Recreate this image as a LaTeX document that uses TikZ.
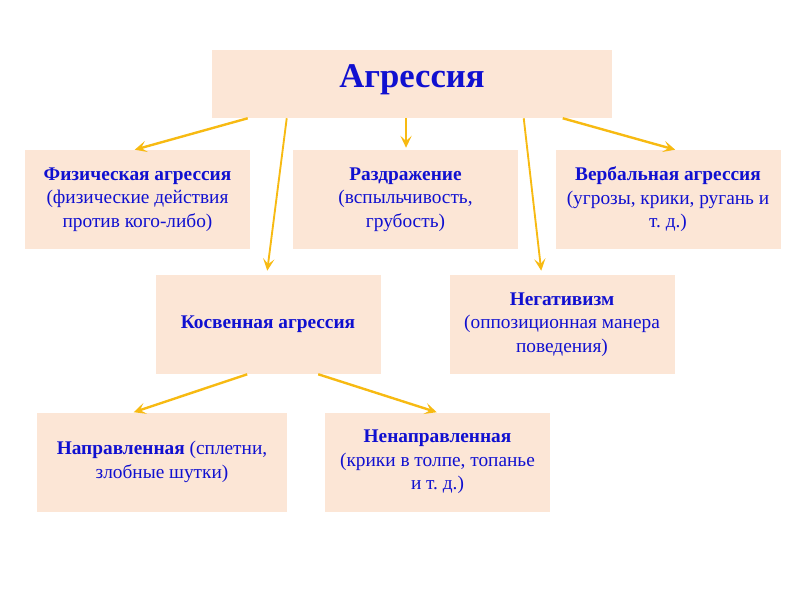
\documentclass[tikz,border=0pt]{standalone}
\usepackage{fontspec}
\setmainfont{Liberation Serif}
\usetikzlibrary{arrows.meta}
\definecolor{boxfill}{HTML}{FCE6D6}
\definecolor{txtblue}{HTML}{1010D0}
\definecolor{arr}{HTML}{F7BA12}
\tikzset{
  box/.style={fill=boxfill, draw=none, align=center, text=txtblue, inner sep=2pt,
    minimum width=168.75pt, minimum height=74.25pt,
    font=\fontsize{14.5}{17.6}\selectfont\frenchspacing},
  link/.style={draw=arr, line width=1.8pt, -{Stealth[length=9pt,width=8.5pt,inset=4pt]}},
  thinlink/.style={link, line width=1.4pt},
}
\begin{document}
\begin{tikzpicture}[x=0.75pt,y=-0.75pt]
\useasboundingbox (0,0) rectangle (800,600);
\node[box, minimum width=300pt, minimum height=51pt, font=\fontsize{26}{30}\selectfont\bfseries] (top) at (412,84) {\raisebox{-2.5pt}[0pt][0pt]{Агрессия}};
\node[box] (fiz) at (137.5,199.5) {\textbf{Физическая агрессия}\\(физические действия\\против кого-либо)};
\node[box] (razd) at (405.5,199.5) {\textbf{Раздражение}\\(вспыльчивость,\\грубость)};
\node[box] (verb) at (668,199.5) {\textbf{Вербальная агрессия}\\(угрозы, крики, ругань и\\т. д.)};
\node[box] (kosv) at (268,324.5) {\textbf{Косвенная агрессия}};
\node[box] (neg) at (562,324.5) {\textbf{Негативизм}\\(оппозиционная манера\\поведения)};
\node[box, minimum width=187.5pt] (napr) at (162,462) {\textbf{Направленная} (сплетни,\\злобные шутки)};
\node[box] (nenapr) at (437.5,462) {\textbf{Ненаправленная}\\(крики в толпе, топанье\\и т. д.)};
\draw[link] ([xshift=27pt]top.south west) -- ([xshift=82.5pt]fiz.north west);
\draw[thinlink] ([xshift=56.25pt]top.south west) -- ([xshift=84pt,yshift=3pt]kosv.north west);
\draw[link] ([xshift=0.4pt]top.south -| razd.north) -- ([xshift=0.4pt,yshift=1.5pt]razd.north);
\draw[thinlink] ([xshift=234pt]top.south west) -- ([xshift=69pt,yshift=3pt]neg.north west);
\draw[link] ([xshift=263.25pt]top.south west) -- ([xshift=90pt]verb.north west);
\draw[link] ([xshift=69pt]kosv.south west) -- ([xshift=72.75pt]napr.north west);
\draw[link] ([xshift=122.25pt]kosv.south west) -- ([xshift=84pt]nenapr.north west);
\end{tikzpicture}
\end{document}
